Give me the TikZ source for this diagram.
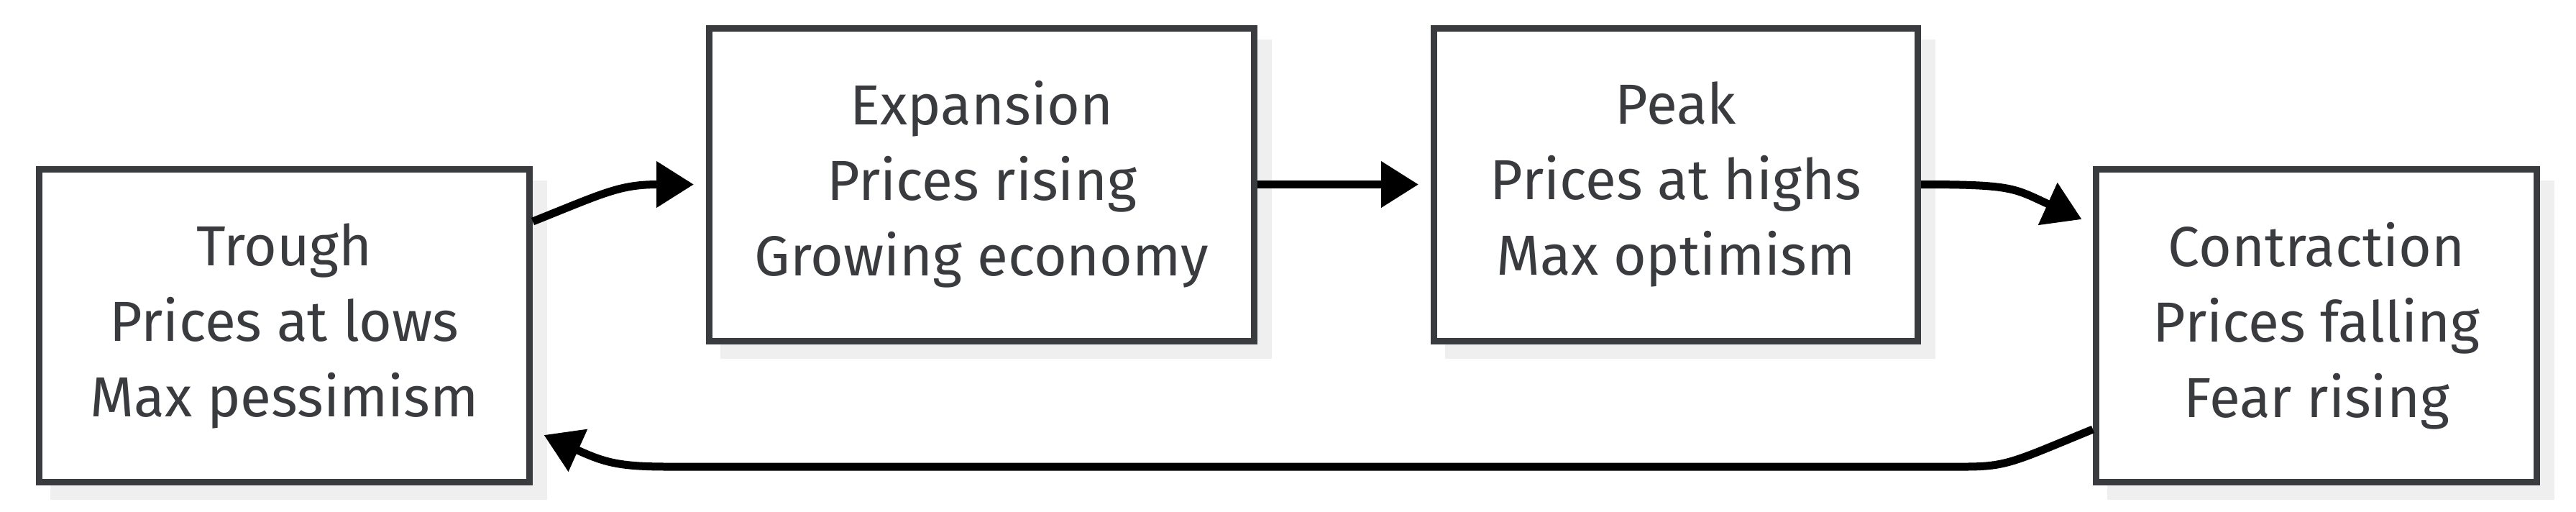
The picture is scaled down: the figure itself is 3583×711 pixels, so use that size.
\documentclass[tikz,border=0pt]{standalone}
\usepackage{fontspec}
\setmainfont{Fira Sans}
\usetikzlibrary{arrows.meta,calc,backgrounds}
\definecolor{boxgrey}{RGB}{57,59,63}
\definecolor{shadowgrey}{RGB}{239,239,239}

\begin{document}
\begin{tikzpicture}[x=0.2pt,y=0.2pt,yscale=-1,xscale=1,
  phase/.style={draw=boxgrey, line width=1.8pt, fill=white, text=boxgrey, align=center, inner sep=0pt, minimum height=87pt, font=\fontsize{15.7pt}{21pt}\selectfont},
  flow/.style={draw=black, line width=2.2pt, -{Triangle[length=10.4pt,width=12.4pt]}, shorten >=3.4pt}]

\useasboundingbox (0,0) rectangle (3583,711);

\node [phase, minimum width=136.4pt] (trough) at (395.5,453) {Trough\\Prices at lows\\Max pessimism};
\node [phase, minimum width=151.6pt] (expansion) at (1365.5,256.5) {Expansion\\Prices rising\\Growing economy};
\node [phase, minimum width=134.6pt] (peak) at (2331,256.5) {Peak\\Prices at highs\\Max optimism};
\node [phase, minimum width=122.6pt] (contraction) at (3222,453) {Contraction\\Prices falling\\Fear rising};

\begin{scope}[on background layer]
\foreach \n in {trough,expansion,peak,contraction}
  \fill [shadowgrey] ($(\n.south west)+(20,20)$) rectangle ($(\n.north east)+(20,20)$);
\end{scope}

\coordinate (lowR) at (2732,649);
\coordinate (lowL) at (930,649);

\draw [flow] ($(trough.east)+(0,-145)$) .. controls +(100,-40) and +(-120,0) .. (expansion.west);
\draw [flow] (expansion.east) -- (peak.west);
\draw [flow] (peak.east) .. controls +(130,0) and +(-110,-50) .. ($(contraction.west)+(0,-141)$);
\draw [flow] ($(contraction.west)+(0,144)$) .. controls +(-110,45) and +(60,0) .. (lowR) -- (lowL) .. controls +(-70,0) and +(100,45) .. ($(trough.east)+(0,145)$);

\end{tikzpicture}
\end{document}
